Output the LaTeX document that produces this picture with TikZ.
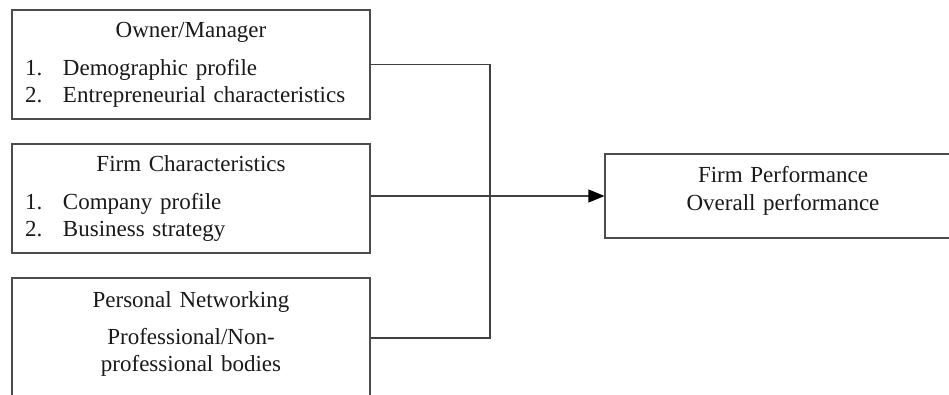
\documentclass[tikz,border=0pt]{standalone}
\usepackage{fontspec}
\setmainfont{Liberation Serif}
\usetikzlibrary{arrows.meta}
\newcommand{\boxitem}[2]{\makebox[\hsize][l]{\makebox[38pt][l]{#1}#2}}
\begin{document}
\begin{tikzpicture}[x=1pt, y=1pt,
        factor/.style={rectangle, draw=black!70, line width=1.1pt, minimum width=358pt, text width=332pt, inner xsep=13pt, align=center, font=\fontsize{23}{27}\selectfont, text=black!90},
        result/.style={factor, minimum width=356pt, text width=330pt},
        link/.style={draw=black!75, line width=1.1pt}
    ]
    \useasboundingbox (0,0) rectangle (949,-395);
    \node[factor, minimum height=109pt] (owner) at (191,-64.5) {
        Owner/Manager\\[11pt]
        \boxitem{1.}{Demographic profile}\\
        \boxitem{2.}{Entrepreneurial characteristics}
    };
    \node[factor, minimum height=109pt] (firm) at (191,-198.5) {
        Firm Characteristics\\[11pt]
        \boxitem{1.}{Company profile}\\
        \boxitem{2.}{Business strategy}
    };
    \node[factor, minimum height=120pt] (network) at (191,-338) {
        Personal Networking\\[10pt]
        Professional/Non-\\
        professional bodies\rule[-13pt]{0pt}{13pt}
    };
    \node[result, minimum height=84pt] (perf) at (783,-196) {
        Firm Performance\\[1pt]
        Overall performance\rule[-15pt]{0pt}{15pt}
    };
    % bus line joining the three factors
    \coordinate (bus) at (490,-338);
    \draw[link] (owner.east) -| (bus) -- (network.east);
    \draw[link, -{Triangle[length=16pt, width=13pt, color=black]}] (firm.east |- perf.west) -- (perf.west);
\end{tikzpicture}
\end{document}
